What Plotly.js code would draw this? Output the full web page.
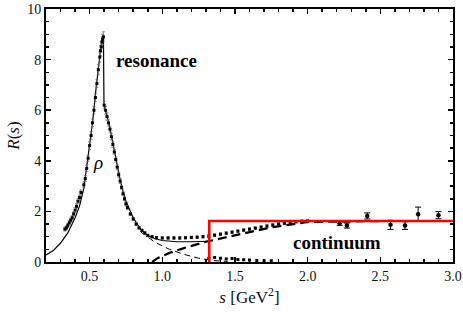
<!DOCTYPE html>
<html><head><meta charset="utf-8">
<script src="https://cdn.plot.ly/plotly-3.0.1.min.js"></script>
<style>body{margin:0;padding:0;background:#fff}#plot{width:463px;height:312px}</style>
</head><body><div id="plot"></div>
<script>
// Theory curve (resonance + continuum), solid
const curveS = [0.2,0.25,0.3,0.35,0.4,0.43,0.46,0.49,0.52,0.545,0.565,0.58,0.59,0.595,0.599,0.61,0.63,0.65,0.67,0.69,0.71,0.73,0.75,0.8,0.85,0.9,0.95,1.0,1.1,1.2,1.32];
const curveR = [0.28,0.45,0.75,1.15,1.75,2.2,2.9,4.1,5.5,6.9,8.0,8.6,8.9,8.85,6.2,6.0,5.55,5.0,4.4,3.8,3.25,2.8,2.4,1.75,1.3,1.05,0.92,0.85,0.8,0.8,0.82];
// Resonance tail, thin dashed
const tailS = [0.85,0.9,0.95,1.05,1.15,1.25,1.35,1.45];
const tailR = [1.2,1.0,0.78,0.5,0.3,0.15,0.06,0.02];
// Continuum, thick dashed
const contS = [0.93,0.97,1.05,1.15,1.3,1.5,1.75,2.0,2.5,3.0];
const contR = [0.0,0.16,0.36,0.55,0.8,1.06,1.37,1.58,1.62,1.62];
// Step model (continuum threshold)
const stepS = [1.323,1.323,3.0];
const stepR = [0.0,1.62,1.62];
// Dense data
const dataS = [0.33,0.34,0.35,0.36,0.37,0.38,0.39,0.40,0.41,0.42,0.43,0.44,0.46,0.47,0.48,0.49,0.50,0.51,0.52,0.53,0.54,0.55,0.56,0.57,0.575,0.58,0.585,0.59,0.595,
  0.60,0.61,0.62,0.63,0.64,0.65,0.66,0.67,0.68,0.69,0.70,0.71,0.72,0.73,0.74,0.75,0.76,0.78,0.80,0.82,0.84,0.86,0.88,0.90,0.93,0.96,1.0,1.04,1.08,
  1.12,1.16,1.2,1.24,1.28,1.32,1.36,1.4,1.44,1.48,1.52,1.56,1.6,1.64,1.68,1.72,1.76,1.8,1.84,1.88,1.92,1.96,2.0];
const dataR = [1.3,1.35,1.45,1.55,1.65,1.75,1.9,2.05,2.2,2.4,2.55,2.75,3.05,3.3,3.7,4.1,4.6,5.0,5.5,6.0,6.5,7.05,7.6,8.1,8.35,8.5,8.7,8.8,8.9,
  6.2,6.0,5.75,5.5,5.25,4.95,4.65,4.35,4.05,3.75,3.45,3.2,2.95,2.7,2.5,2.3,2.15,1.9,1.7,1.5,1.35,1.25,1.15,1.05,1.0,0.96,0.95,0.95,0.95,
  0.95,0.96,0.97,0.98,1.0,1.02,1.06,1.1,1.14,1.18,1.22,1.26,1.3,1.34,1.38,1.42,1.46,1.5,1.53,1.56,1.59,1.61,1.62];
const dataE = [0.08,0.08,0.08,0.08,0.08,0.08,0.08,0.1,0.1,0.1,0.1,0.1,0.12,0.12,0.12,0.12,0.15,0.15,0.15,0.15,0.15,0.15,0.2,0.2,0.2,0.2,0.2,0.2,0.2,
  0.15,0.15,0.15,0.12,0.12,0.12,0.12,0.1,0.1,0.1,0.1,0.1,0.08,0.08,0.08,0.08,0.08,0.06,0.06,0.06,0.05,0.05,0.05,0.05,0.05,0.05,0.05,0.05,0.05,
  0.05,0.05,0.05,0.05,0.05,0.05,0.05,0.05,0.05,0.05,0.05,0.05,0.05,0.05,0.05,0.05,0.05,0.05,0.05,0.05,0.05,0.05,0.05];
// Small near-zero data
const lowS = [1.32,1.36,1.4,1.44,1.48,1.52,1.56,1.6,1.65,1.7,1.75];
const lowR = [0.15,0.18,0.15,0.12,0.14,0.1,0.09,0.08,0.06,0.05,0.05];
// Sparse high-energy data
const hiS = [2.22,2.27,2.41,2.57,2.67,2.76,2.9];
const hiR = [1.53,1.44,1.82,1.47,1.44,1.89,1.85];
const hiE = [0.08,0.1,0.12,0.18,0.15,0.28,0.14];

const FAM = 'Liberation Serif';
const traces = [
  {x: tailS, y: tailR, mode:'lines', line:{color:'#000', width:1, dash:'6px,4px'}, hoverinfo:'skip'},
  {x: contS, y: contR, mode:'lines', line:{color:'#000', width:2.2, dash:'9px,5px'}, hoverinfo:'skip'},
  {x: curveS, y: curveR, mode:'lines', line:{color:'#000', width:1.2}, hoverinfo:'skip'},
  {x: dataS, y: dataR, mode:'markers', marker:{symbol:'square', size:3, color:'#000'},
   error_y:{type:'data', array: dataE, color:'#666', thickness:0.7, width:1.5}},
  {x: lowS, y: lowR, mode:'markers', marker:{symbol:'square', size:3, color:'#000'}},
  {x: hiS, y: hiR, mode:'markers', marker:{symbol:'circle', size:4.5, color:'#000'},
   error_y:{type:'data', array: hiE, color:'#000', thickness:1, width:3}},
  {x: stepS, y: stepR, mode:'lines', line:{color:'#ff0000', width:2.6}, cliponaxis:false, hoverinfo:'skip'}
];
const layout = {
  width:463, height:312,
  margin:{l:46, r:10, t:9, b:50},
  showlegend:false,
  xaxis: {
    showline:true, linecolor:'#000', linewidth:2, mirror:'ticks', ticks:'inside',
    ticklen:5, tickwidth:1.5, tickcolor:'#000', showgrid:false, zeroline:false,
    tickfont:{family:FAM, size:14, color:'#111'},
    range:[0.2,3.0], tickvals:[0.5,1.0,1.5,2.0,2.5,3.0], ticktext:['0.5','1.0','1.5','2.0','2.5','3.0'],
    minor:{dtick:0.1, tick0:0, ticks:'inside', ticklen:3, tickwidth:1.5, tickcolor:'#000'},
    title:{text:'<i>s</i> [GeV<sup>2</sup>]', font:{family:FAM, size:17, color:'#111'}, standoff:8}
  },
  yaxis: {
    showline:true, linecolor:'#000', linewidth:2, mirror:'ticks', ticks:'inside',
    ticklen:5, tickwidth:1.5, tickcolor:'#000', showgrid:false, zeroline:false,
    tickfont:{family:FAM, size:14, color:'#111'},
    range:[0,10], dtick:2, tick0:0,
    minor:{dtick:0.5, ticks:'inside', ticklen:3, tickwidth:1.5, tickcolor:'#000'},
    title:{text:'<i>R</i>(<i>s</i>)', font:{family:FAM, size:17, color:'#111'}, standoff:3}
  },
  annotations:[
    {x:0.963, y:7.96, xref:'x', yref:'y', text:'<b>resonance</b>', showarrow:false, font:{family:FAM, size:19, color:'#000'}},
    {x:2.20, y:0.77, xref:'x', yref:'y', text:'<b>continuum</b>', showarrow:false, font:{family:FAM, size:19, color:'#000'}},
    {x:0.558, y:3.92, xref:'x', yref:'y', text:'<i>ρ</i>', showarrow:false, font:{family:FAM, size:19, color:'#000'}}
  ]
};
Plotly.newPlot('plot', traces, layout, {staticPlot:true, displayModeBar:false});
</script></body></html>
